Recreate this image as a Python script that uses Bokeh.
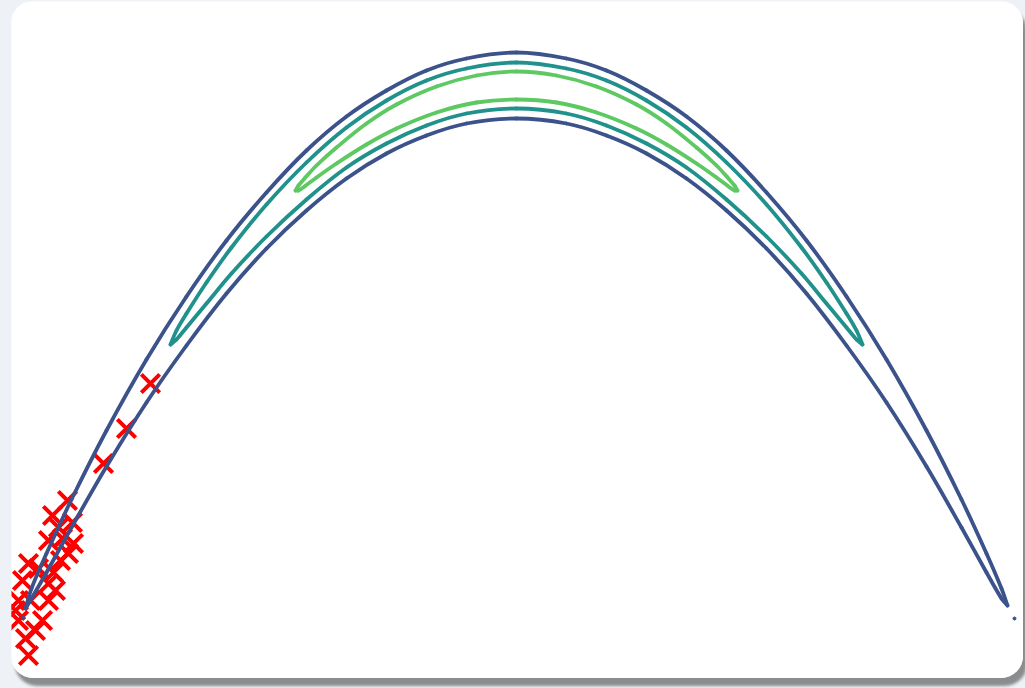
from math import hypot
from bokeh.plotting import figure
from bokeh.models import Range1d, ColumnDataSource, GlobalInlineStyleSheet
from bokeh.embed import file_html
from bokeh.resources import INLINE

# ---- contour levels ----
level_names = ["outer", "middle", "inner"]
level_colors = ["#3b528b", "#21918c", "#5ec962"]

blue_u = [-4.91, -4.85, -4.70, -4.45, -4.10, -3.70, -3.30, -2.90, -2.50, -2.10, -1.70, -1.30, -0.90, -0.50, 0.0,
          0.50, 0.90, 1.30, 1.70, 2.10, 2.50, 2.90, 3.30, 3.70, 4.10, 4.45, 4.70, 4.85, 4.91]
blue_upper = [0.02, 0.22, 0.57, 1.11, 1.80, 2.51, 3.14, 3.70, 4.18, 4.60, 4.94, 5.20, 5.40, 5.52, 5.58,
              5.52, 5.40, 5.20, 4.94, 4.60, 4.18, 3.70, 3.14, 2.51, 1.80, 1.11, 0.57, 0.22, 0.05]
blue_lower = [0.02, 0.12, 0.38, 0.83, 1.44, 2.08, 2.65, 3.17, 3.62, 4.00, 4.32, 4.57, 4.75, 4.87, 4.92,
              4.87, 4.75, 4.57, 4.32, 4.00, 3.62, 3.17, 2.65, 2.08, 1.44, 0.83, 0.38, 0.12, 0.05]

teal_u = [-3.46, -3.40, -3.30, -3.10, -2.85, -2.50, -2.10, -1.70, -1.30, -0.90, -0.50, 0.0,
          0.50, 0.90, 1.30, 1.70, 2.10, 2.50, 2.85, 3.10, 3.30, 3.40, 3.46]
teal_upper = [2.66, 2.80, 2.97, 3.28, 3.63, 4.06, 4.48, 4.83, 5.10, 5.30, 5.42, 5.48,
              5.42, 5.30, 5.10, 4.83, 4.48, 4.06, 3.63, 3.28, 2.97, 2.80, 2.66]
teal_lower = [2.66, 2.71, 2.83, 3.07, 3.37, 3.74, 4.11, 4.43, 4.67, 4.85, 4.97, 5.02,
              4.97, 4.85, 4.67, 4.43, 4.11, 3.74, 3.37, 3.07, 2.83, 2.71, 2.66]

green_u = [-2.21, -2.18, -2.12, -2.00, -1.80, -1.50, -1.20, -0.80, -0.40, 0.0,
           0.40, 0.80, 1.20, 1.50, 1.80, 2.00, 2.12, 2.18, 2.21]
green_upper = [4.20, 4.25, 4.32, 4.45, 4.63, 4.87, 5.06, 5.24, 5.35, 5.39,
               5.35, 5.24, 5.06, 4.87, 4.63, 4.45, 4.32, 4.25, 4.20]
green_lower = [4.20, 4.20, 4.24, 4.33, 4.47, 4.66, 4.82, 4.98, 5.08, 5.11,
               5.08, 4.98, 4.82, 4.66, 4.47, 4.33, 4.24, 4.20, 4.20]

# small stray contour specks at the two tips
speck_x = [-4.93, 4.98]
speck_y = [-0.07, -0.08]

# ---- samples (red crosses) ----
sample_x = [-3.66, -3.90, -4.13, -4.49, -4.64, -4.44, -4.58, -4.68, -4.43, -4.48, -4.56, -4.88,
            -4.78, -4.63, -4.94, -4.68, -4.98, -4.68, -5.01, -4.74, -4.98, -4.81, -4.91, -4.88,
            -4.86, -4.61, -4.54]
sample_y = [2.27, 1.82, 1.47, 1.10, 0.95, 0.88, 0.83, 0.70, 0.67, 0.57, 0.50, 0.47,
            0.42, 0.38, 0.30, 0.27, 0.10, 0.10, 0.00, -0.10, -0.10, -0.20, -0.28, -0.45,
            0.10, 0.20, 0.72]


def smooth_segments(us, vs, color, seg):
    """Turn one read-off contour arc into cubic Bezier pieces through its points."""
    n = len(us)
    d = [hypot(us[i + 1] - us[i], vs[i + 1] - vs[i]) for i in range(n - 1)]
    tang = []
    for i in range(n):
        if i == 0:
            tang.append(((us[1] - us[0]) / d[0], (vs[1] - vs[0]) / d[0]))
        elif i == n - 1:
            tang.append(((us[-1] - us[-2]) / d[-1], (vs[-1] - vs[-2]) / d[-1]))
        else:
            s = d[i - 1] + d[i]
            tang.append(((us[i + 1] - us[i - 1]) / s, (vs[i + 1] - vs[i - 1]) / s))
    for i in range(n - 1):
        k = d[i] / 3.0
        seg["x0"].append(us[i]); seg["y0"].append(vs[i])
        seg["x1"].append(us[i + 1]); seg["y1"].append(vs[i + 1])
        seg["cx0"].append(us[i] + tang[i][0] * k); seg["cy0"].append(vs[i] + tang[i][1] * k)
        seg["cx1"].append(us[i + 1] - tang[i + 1][0] * k); seg["cy1"].append(vs[i + 1] - tang[i + 1][1] * k)
        seg["color"].append(color)


seg = {k: [] for k in ["x0", "y0", "x1", "y1", "cx0", "cy0", "cx1", "cy1", "color"]}
for (u, up, lo), col in zip([(blue_u, blue_upper, blue_lower), (teal_u, teal_upper, teal_lower),
                             (green_u, green_upper, green_lower)], level_colors):
    smooth_segments(u, up, col, seg)
    smooth_segments(u, lo, col, seg)

# ---- figure ----
p = figure(width=1012, height=677, output_backend="svg", toolbar_location=None,
           x_range=Range1d(-5.05, 5.07), y_range=Range1d(-0.68, 6.09),
           min_border=0, background_fill_color="white", border_fill_color="white")
p.axis.visible = False
p.grid.visible = False
p.outline_line_color = None
p.styles = {"border-radius": "22px", "overflow": "hidden",
            "box-shadow": "4px 8px 3px rgba(0,0,0,0.42)"}
p.stylesheets = [GlobalInlineStyleSheet(
    css="body { margin: 0; padding: 1px 0 0 11px; background: #eef2f6; }")]

p.scatter(sample_x, sample_y, marker="x", size=26, line_width=4, line_color="red")

p.bezier(x0="x0", y0="y0", x1="x1", y1="y1", cx0="cx0", cy0="cy0", cx1="cx1", cy1="cy1",
         source=ColumnDataSource(seg), line_color="color", line_width=3.8, line_cap="round")
p.scatter(speck_x, speck_y, size=3, color=level_colors[0])

open("out.html", "w").write(file_html(p, INLINE))
